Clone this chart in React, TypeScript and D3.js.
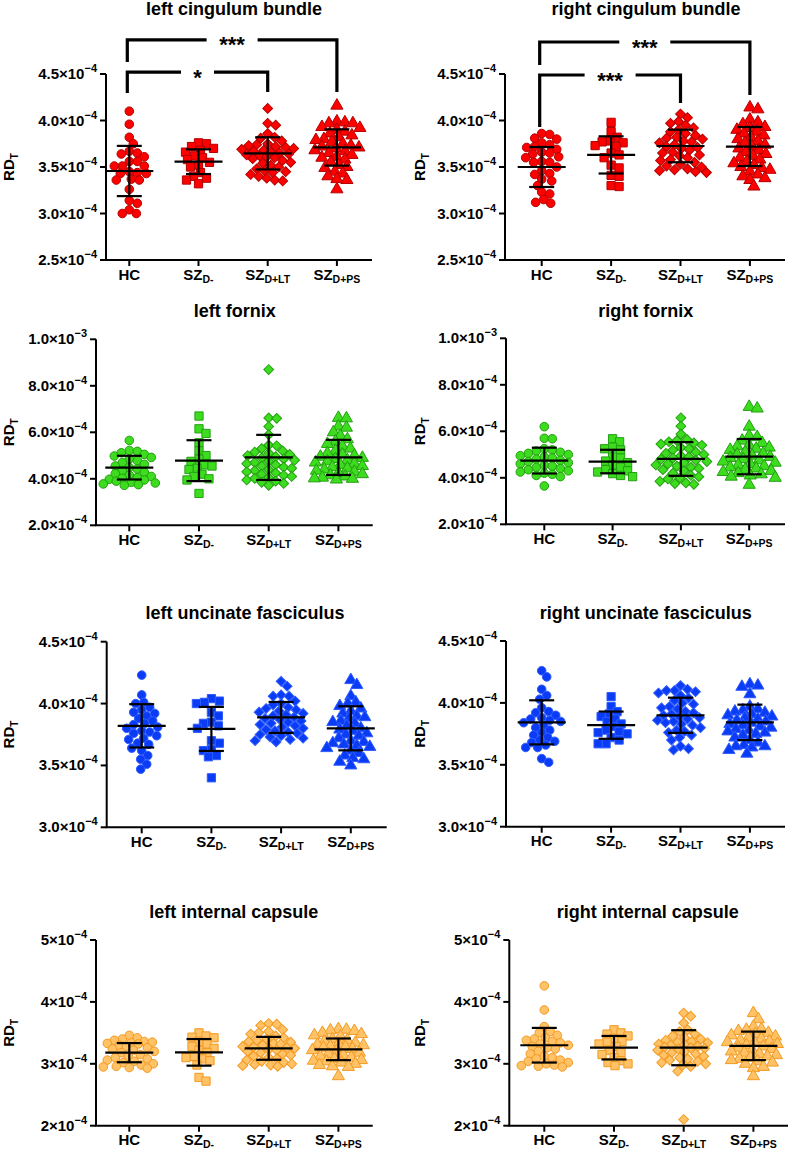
import React from "react";
import * as d3 from "d3";

// Values are RD_T in units of 1e-4
const CAT_KEYS = ["HC", "SZD-", "SZD+LT", "SZD+PS"];
const CAT_MAIN = ["HC", "SZ", "SZ", "SZ"];
const CAT_SUB = ["", "D-", "D+LT", "D+PS"];

// ---------- left cingulum bundle ----------
const lcbHC = [4.10, 3.96, 3.82, 3.75, 3.67, 3.65, 3.64, 3.61, 3.56, 3.56, 3.51, 3.51, 3.51, 3.45, 3.44, 3.43, 3.43, 3.37, 3.36, 3.36, 3.26, 3.14, 3.11, 3.04, 3.00, 3.00];
const lcbSZD = [3.76, 3.75, 3.72, 3.70, 3.68, 3.66, 3.62, 3.60, 3.58, 3.55, 3.52, 3.50, 3.44, 3.40, 3.38, 3.36, 3.32];
const lcbLT = [4.13, 3.97, 3.95, 3.86, 3.82, 3.81, 3.78, 3.75, 3.74, 3.73, 3.72, 3.71, 3.70, 3.69, 3.68, 3.67, 3.66, 3.65, 3.64, 3.63, 3.62, 3.61, 3.60, 3.59, 3.57, 3.55, 3.54, 3.52, 3.50, 3.48, 3.46, 3.45, 3.44, 3.42, 3.40, 3.38, 3.36, 3.35];
const lcbPS = [4.16, 3.99, 3.98, 3.97, 3.97, 3.93, 3.92, 3.90, 3.88, 3.86, 3.84, 3.82, 3.80, 3.79, 3.77, 3.75, 3.73, 3.72, 3.71, 3.70, 3.68, 3.67, 3.65, 3.63, 3.61, 3.60, 3.58, 3.55, 3.52, 3.50, 3.49, 3.45, 3.43, 3.40, 3.37, 3.36, 3.26];
const lcbMean = [3.457, 3.557, 3.647, 3.71];
const lcbSD = [0.27, 0.133, 0.173, 0.195];

// ---------- right cingulum bundle ----------
const rcbHC = [3.86, 3.85, 3.81, 3.80, 3.76, 3.74, 3.72, 3.71, 3.69, 3.66, 3.65, 3.64, 3.61, 3.60, 3.56, 3.55, 3.55, 3.50, 3.46, 3.43, 3.42, 3.37, 3.35, 3.30, 3.23, 3.21, 3.15, 3.12, 3.11];
const rcbSZD = [3.98, 3.88, 3.82, 3.78, 3.77, 3.76, 3.73, 3.72, 3.65, 3.63, 3.60, 3.52, 3.49, 3.41, 3.40, 3.30, 3.29];
const rcbLT = [4.07, 4.03, 3.99, 3.97, 3.95, 3.92, 3.90, 3.88, 3.86, 3.84, 3.82, 3.81, 3.80, 3.78, 3.77, 3.76, 3.74, 3.72, 3.71, 3.70, 3.68, 3.66, 3.65, 3.63, 3.62, 3.60, 3.58, 3.57, 3.55, 3.53, 3.51, 3.50, 3.48, 3.47, 3.46, 3.45, 3.44];
const rcbPS = [4.14, 4.12, 4.01, 3.98, 3.96, 3.93, 3.92, 3.90, 3.88, 3.86, 3.84, 3.82, 3.80, 3.78, 3.76, 3.74, 3.72, 3.70, 3.68, 3.66, 3.64, 3.62, 3.60, 3.58, 3.56, 3.54, 3.52, 3.50, 3.49, 3.47, 3.45, 3.42, 3.40, 3.38, 3.36, 3.29];
const rcbMean = [3.50, 3.63, 3.726, 3.72];
const rcbSD = [0.215, 0.2, 0.175, 0.21];

// ---------- left fornix ----------
const lfxHC = [5.65, 5.22, 5.18, 5.12, 5.05, 4.98, 4.92, 4.85, 4.78, 4.70, 4.62, 4.55, 4.48, 4.42, 4.35, 4.28, 4.22, 4.15, 4.10, 4.05, 4.02, 3.98, 3.95, 3.90, 3.85, 3.82, 3.78, 3.75, 3.72];
const lfxSZD = [6.70, 6.15, 5.95, 5.55, 5.20, 5.00, 4.85, 4.75, 4.60, 4.55, 4.45, 4.40, 4.20, 4.10, 4.00, 3.95, 3.37];
const lfxLT = [8.70, 6.62, 6.60, 6.25, 5.90, 5.45, 5.42, 5.30, 5.20, 5.15, 5.10, 5.05, 5.00, 4.95, 4.90, 4.85, 4.80, 4.75, 4.70, 4.65, 4.60, 4.55, 4.50, 4.45, 4.40, 4.35, 4.30, 4.25, 4.20, 4.15, 4.10, 4.05, 4.02, 3.95, 3.90, 3.85, 3.80, 3.72];
const lfxPS = [6.62, 6.60, 6.25, 6.20, 6.00, 5.85, 5.70, 5.60, 5.50, 5.40, 5.30, 5.20, 5.10, 5.05, 5.00, 4.95, 4.90, 4.85, 4.80, 4.75, 4.70, 4.65, 4.60, 4.55, 4.50, 4.45, 4.40, 4.35, 4.30, 4.25, 4.20, 4.15, 4.10, 4.05, 4.02, 4.00, 3.97];
const lfxMean = [4.48, 4.78, 4.92, 4.92];
const lfxSD = [0.51, 0.88, 0.97, 0.755];

// ---------- right fornix ----------
const rfxHC = [6.20, 5.70, 5.68, 5.25, 5.20, 5.15, 5.10, 5.05, 5.00, 4.95, 4.90, 4.85, 4.80, 4.75, 4.70, 4.65, 4.60, 4.55, 4.50, 4.45, 4.40, 4.35, 4.30, 4.25, 4.20, 4.15, 4.10, 4.05, 3.65];
const rfxSZD = [5.68, 5.55, 5.32, 5.25, 5.20, 4.90, 4.85, 4.72, 4.65, 4.55, 4.45, 4.35, 4.30, 4.25, 4.18, 4.10, 4.05];
const rfxLT = [6.58, 6.22, 5.88, 5.65, 5.60, 5.55, 5.50, 5.45, 5.40, 5.30, 5.25, 5.20, 5.10, 5.05, 5.00, 4.95, 4.90, 4.85, 4.80, 4.75, 4.70, 4.65, 4.60, 4.55, 4.50, 4.45, 4.40, 4.35, 4.30, 4.20, 4.10, 4.05, 4.00, 3.95, 3.85, 3.78, 3.75, 3.72];
const rfxPS = [7.05, 6.98, 6.20, 5.80, 5.75, 5.60, 5.50, 5.40, 5.35, 5.30, 5.25, 5.20, 5.10, 5.05, 5.00, 4.95, 4.90, 4.85, 4.80, 4.75, 4.70, 4.65, 4.60, 4.55, 4.50, 4.45, 4.40, 4.35, 4.30, 4.25, 4.20, 4.15, 4.10, 4.05, 4.00, 3.70];
const rfxMean = [4.74, 4.70, 4.81, 4.91];
const rfxSD = [0.555, 0.505, 0.725, 0.76];

// ---------- left uncinate fasciculus ----------
const lufHC = [4.23, 4.07, 4.01, 4.00, 3.97, 3.95, 3.93, 3.92, 3.90, 3.88, 3.86, 3.84, 3.83, 3.81, 3.80, 3.78, 3.77, 3.76, 3.74, 3.72, 3.71, 3.68, 3.67, 3.64, 3.62, 3.58, 3.55, 3.51, 3.47];
const lufSZD = [4.04, 4.02, 4.01, 4.00, 3.93, 3.90, 3.85, 3.84, 3.82, 3.80, 3.70, 3.68, 3.63, 3.62, 3.58, 3.57, 3.40];
const lufLT = [4.18, 4.14, 4.07, 4.06, 4.06, 4.02, 4.00, 3.99, 3.97, 3.96, 3.95, 3.94, 3.93, 3.92, 3.91, 3.90, 3.89, 3.88, 3.87, 3.86, 3.85, 3.84, 3.83, 3.82, 3.81, 3.80, 3.79, 3.78, 3.77, 3.76, 3.75, 3.74, 3.73, 3.72, 3.71, 3.70, 3.69];
const lufPS = [4.19, 4.15, 4.06, 4.01, 4.00, 3.98, 3.96, 3.94, 3.92, 3.90, 3.89, 3.88, 3.86, 3.85, 3.84, 3.82, 3.80, 3.79, 3.78, 3.76, 3.75, 3.74, 3.72, 3.70, 3.69, 3.68, 3.67, 3.66, 3.65, 3.64, 3.62, 3.60, 3.58, 3.56, 3.55, 3.53, 3.50];
const lufMean = [3.82, 3.795, 3.888, 3.80];
const lufSD = [0.175, 0.178, 0.125, 0.178];

// ---------- right uncinate fasciculus ----------
const rufHC = [4.26, 4.21, 4.11, 4.06, 4.03, 3.96, 3.93, 3.92, 3.90, 3.88, 3.87, 3.86, 3.85, 3.84, 3.82, 3.80, 3.78, 3.76, 3.74, 3.72, 3.70, 3.69, 3.68, 3.66, 3.64, 3.64, 3.55, 3.52];
const rufSZD = [4.05, 3.97, 3.93, 3.91, 3.89, 3.87, 3.85, 3.83, 3.81, 3.78, 3.77, 3.76, 3.75, 3.72, 3.70, 3.67, 3.67];
const rufLT = [4.14, 4.11, 4.10, 4.10, 4.09, 4.08, 4.06, 4.04, 4.02, 4.00, 3.99, 3.97, 3.96, 3.95, 3.93, 3.92, 3.91, 3.90, 3.89, 3.88, 3.87, 3.86, 3.85, 3.84, 3.83, 3.82, 3.80, 3.78, 3.77, 3.76, 3.74, 3.72, 3.70, 3.65, 3.63, 3.62];
const rufPS = [4.15, 4.14, 4.13, 4.07, 3.97, 3.95, 3.94, 3.93, 3.92, 3.91, 3.90, 3.89, 3.88, 3.87, 3.86, 3.85, 3.84, 3.83, 3.82, 3.81, 3.80, 3.79, 3.78, 3.77, 3.76, 3.75, 3.74, 3.72, 3.70, 3.68, 3.66, 3.65, 3.65, 3.64, 3.62, 3.59];
const rufMean = [3.843, 3.82, 3.90, 3.843];
const rufSD = [0.178, 0.11, 0.142, 0.143];

// ---------- left internal capsule ----------
const licHC = [3.46, 3.42, 3.40, 3.38, 3.36, 3.35, 3.34, 3.33, 3.32, 3.30, 3.28, 3.26, 3.24, 3.22, 3.20, 3.18, 3.15, 3.12, 3.10, 3.08, 3.06, 3.04, 3.02, 3.00, 2.98, 2.96, 2.95, 2.94, 2.93];
const licSZD = [3.50, 3.45, 3.43, 3.42, 3.35, 3.32, 3.28, 3.25, 3.22, 3.18, 3.12, 3.10, 3.08, 3.05, 2.98, 2.78, 2.72];
const licLT = [3.65, 3.64, 3.62, 3.55, 3.52, 3.50, 3.48, 3.45, 3.42, 3.40, 3.38, 3.36, 3.35, 3.33, 3.32, 3.30, 3.28, 3.27, 3.26, 3.25, 3.23, 3.22, 3.20, 3.18, 3.16, 3.14, 3.12, 3.10, 3.08, 3.06, 3.04, 3.02, 3.00, 2.99, 2.98, 2.97, 2.96];
const licPS = [3.56, 3.55, 3.54, 3.53, 3.50, 3.48, 3.46, 3.44, 3.40, 3.38, 3.36, 3.34, 3.32, 3.31, 3.30, 3.28, 3.27, 3.26, 3.24, 3.22, 3.20, 3.18, 3.16, 3.14, 3.12, 3.10, 3.08, 3.06, 3.05, 3.04, 3.02, 3.00, 2.98, 2.96, 2.95, 2.80];
const licMean = [3.18, 3.185, 3.25, 3.234];
const licSD = [0.155, 0.215, 0.185, 0.175];

// ---------- right internal capsule ----------
const ricHC = [4.26, 3.87, 3.60, 3.52, 3.50, 3.46, 3.42, 3.40, 3.38, 3.36, 3.34, 3.32, 3.30, 3.28, 3.26, 3.24, 3.20, 3.16, 3.12, 3.10, 3.08, 3.06, 3.04, 3.02, 3.00, 2.98, 2.97, 2.96, 2.95];
const ricSZD = [3.55, 3.50, 3.48, 3.45, 3.40, 3.36, 3.35, 3.32, 3.28, 3.22, 3.18, 3.15, 3.10, 3.05, 3.02, 3.00, 2.97];
const ricLT = [3.82, 3.77, 3.66, 3.55, 3.52, 3.48, 3.45, 3.42, 3.40, 3.38, 3.36, 3.35, 3.34, 3.32, 3.31, 3.30, 3.28, 3.27, 3.26, 3.25, 3.24, 3.22, 3.20, 3.18, 3.16, 3.14, 3.12, 3.10, 3.08, 3.06, 3.04, 3.02, 3.00, 2.98, 2.96, 2.88, 2.10];
const ricPS = [3.82, 3.72, 3.60, 3.56, 3.55, 3.53, 3.50, 3.48, 3.46, 3.44, 3.42, 3.40, 3.38, 3.36, 3.35, 3.34, 3.32, 3.30, 3.28, 3.26, 3.24, 3.22, 3.20, 3.18, 3.16, 3.14, 3.12, 3.10, 3.08, 3.06, 3.04, 3.02, 3.00, 2.95, 2.93, 2.80];
const ricMean = [3.30, 3.26, 3.26, 3.29];
const ricSD = [0.28, 0.19, 0.283, 0.23];

// ---------- axes ----------
const cingTicks = [2.5, 3.0, 3.5, 4.0, 4.5];
const cingTickLabels = [["2.5×10", "−4"], ["3.0×10", "−4"], ["3.5×10", "−4"], ["4.0×10", "−4"], ["4.5×10", "−4"]];
const fornixTicks = [2, 4, 6, 8, 10];
const fornixTickLabels = [["2.0×10", "−4"], ["4.0×10", "−4"], ["6.0×10", "−4"], ["8.0×10", "−4"], ["1.0×10", "−3"]];
const uncTicks = [3.0, 3.5, 4.0, 4.5];
const uncTickLabels = [["3.0×10", "−4"], ["3.5×10", "−4"], ["4.0×10", "−4"], ["4.5×10", "−4"]];
const capTicks = [2, 3, 4, 5];
const capTickLabels = [["2×10", "−4"], ["3×10", "−4"], ["4×10", "−4"], ["5×10", "−4"]];

// significance brackets (group indices, label, heights in data units)
const lcbBrackets = [
  { a: 0, b: 3, label: "***", line: 4.866, legA: 4.63, legB: 4.306 },
  { a: 0, b: 2, label: "*", line: 4.52, legA: 4.296, legB: 4.306 },
];
const rcbBrackets = [
  { a: 0, b: 3, label: "***", line: 4.844, legA: 4.597, legB: 4.274 },
  { a: 0, b: 2, label: "***", line: 4.489, legA: 3.93, legB: 4.188 },
];

const PALETTES: Record<string, { fill: string; stroke: string }> = {
  red: { fill: "#ff0000", stroke: "#b30000" },
  green: { fill: "#3ddc1e", stroke: "#23a012" },
  blue: { fill: "#0a3cf5", stroke: "#2f5cff" },
  orange: { fill: "#ffc266", stroke: "#f39a22" },
};

const PANELS = [
  { title: "left cingulum bundle", groups: [lcbHC, lcbSZD, lcbLT, lcbPS], mean: lcbMean, sd: lcbSD, domain: [2.5, 4.5], ticks: cingTicks, tickLabels: cingTickLabels, color: "red", brackets: lcbBrackets },
  { title: "right cingulum bundle", groups: [rcbHC, rcbSZD, rcbLT, rcbPS], mean: rcbMean, sd: rcbSD, domain: [2.5, 4.5], ticks: cingTicks, tickLabels: cingTickLabels, color: "red", brackets: rcbBrackets },
  { title: "left fornix", groups: [lfxHC, lfxSZD, lfxLT, lfxPS], mean: lfxMean, sd: lfxSD, domain: [2, 10], ticks: fornixTicks, tickLabels: fornixTickLabels, color: "green", brackets: [] },
  { title: "right fornix", groups: [rfxHC, rfxSZD, rfxLT, rfxPS], mean: rfxMean, sd: rfxSD, domain: [2, 10], ticks: fornixTicks, tickLabels: fornixTickLabels, color: "green", brackets: [] },
  { title: "left uncinate fasciculus", groups: [lufHC, lufSZD, lufLT, lufPS], mean: lufMean, sd: lufSD, domain: [3.0, 4.5], ticks: uncTicks, tickLabels: uncTickLabels, color: "blue", brackets: [] },
  { title: "right uncinate fasciculus", groups: [rufHC, rufSZD, rufLT, rufPS], mean: rufMean, sd: rufSD, domain: [3.0, 4.5], ticks: uncTicks, tickLabels: uncTickLabels, color: "blue", brackets: [] },
  { title: "left internal capsule", groups: [licHC, licSZD, licLT, licPS], mean: licMean, sd: licSD, domain: [2, 5], ticks: capTicks, tickLabels: capTickLabels, color: "orange", brackets: [] },
  { title: "right internal capsule", groups: [ricHC, ricSZD, ricLT, ricPS], mean: ricMean, sd: ricSD, domain: [2, 5], ticks: capTicks, tickLabels: capTickLabels, color: "orange", brackets: [] },
];

// layout of each panel (pixels)
const LAYOUTS = [
  { axisX: 106, yTop: 74, yBot: 260, cat0: 129.3, step: 69.2, axisEnd: 372, titleX: 234, titleY: 15, labelX: 14 },
  { axisX: 505, yTop: 74, yBot: 260, cat0: 541.7, step: 69.4, axisEnd: 785, titleX: 646, titleY: 15, labelX: 425 },
  { axisX: 96, yTop: 339.3, yBot: 525.3, cat0: 129.3, step: 69.7, axisEnd: 372.7, titleX: 234.7, titleY: 317, labelX: 14 },
  { axisX: 506, yTop: 338.3, yBot: 524.3, cat0: 544.3, step: 68.3, axisEnd: 785, titleX: 645.7, titleY: 317, labelX: 425 },
  { axisX: 106.7, yTop: 641.7, yBot: 827.3, cat0: 141.7, step: 69.7, axisEnd: 386.7, titleX: 245, titleY: 619.3, labelX: 14 },
  { axisX: 506, yTop: 641, yBot: 826.7, cat0: 541.7, step: 69.4, axisEnd: 785, titleX: 645.7, titleY: 619, labelX: 425 },
  { axisX: 96, yTop: 940, yBot: 1125.7, cat0: 129.3, step: 69.7, axisEnd: 372.7, titleX: 233.8, titleY: 918.3, labelX: 14 },
  { axisX: 509.3, yTop: 940, yBot: 1125.7, cat0: 544.3, step: 69.7, axisEnd: 788, titleX: 647.8, titleY: 918, labelX: 425 },
];

const FONT = "'Liberation Sans', Arial, Helvetica, sans-serif";
const SWARM_D = 7.6;
const SWARM_MAX = 26;

function swarm(vals: number[], y: (v: number) => number) {
  const pts = vals.map((v) => ({ v, py: y(v), dx: 0 })).sort((a, b) => a.py - b.py);
  const placed: { px: number; py: number }[] = [];
  for (const p of pts) {
    let best = 0;
    let bestScore = -1;
    for (let k = 0; k <= 2 * SWARM_MAX; k++) {
      const c = k === 0 ? 0 : k % 2 === 1 ? Math.ceil(k / 2) : -Math.ceil(k / 2);
      let minD = Infinity;
      for (const q of placed) {
        const dd = Math.hypot(q.px - c, q.py - p.py);
        if (dd < minD) minD = dd;
      }
      if (minD >= SWARM_D) {
        best = c;
        break;
      }
      if (minD > bestScore) {
        bestScore = minD;
        best = c;
      }
    }
    p.dx = best;
    placed.push({ px: p.dx, py: p.py });
  }
  return pts;
}

const SYMBOLS = [
  { type: d3.symbolCircle, size: 58, rot: 0 },
  { type: d3.symbolSquare, size: 68, rot: 0 },
  { type: d3.symbolSquare, size: 48, rot: 45 },
  { type: d3.symbolTriangle, size: 64, rot: 0 },
];

function Panel({ p, L }: { p: any; L: any }) {
  const y = d3.scaleLinear().domain(p.domain).range([L.yBot, L.yTop]);
  const x = d3
    .scalePoint<string>()
    .domain(CAT_KEYS)
    .range([L.cat0, L.cat0 + 3 * L.step]);
  const pal = PALETTES[p.color];
  const cy = (L.yTop + L.yBot) / 2;

  return (
    <g fontFamily={FONT} fontWeight="bold">
      <text x={L.titleX} y={L.titleY} fontSize={18} textAnchor="middle">
        {p.title}
      </text>
      <text transform={`translate(${L.labelX},${cy}) rotate(-90)`} fontSize={15} textAnchor="middle">
        RD
        <tspan fontSize={10} dy={4}>
          T
        </tspan>
      </text>
      {/* axes */}
      <line x1={L.axisX} x2={L.axisX} y1={L.yTop} y2={L.yBot} stroke="#000" strokeWidth={2} />
      <line x1={L.axisX - 1} x2={L.axisEnd} y1={L.yBot} y2={L.yBot} stroke="#000" strokeWidth={2} />
      {p.ticks.map((t: number, i: number) => (
        <g key={"t" + i}>
          <line x1={L.axisX - 6} x2={L.axisX} y1={y(t)} y2={y(t)} stroke="#000" strokeWidth={2} />
          <text x={L.axisX - 9} y={y(t) + 5} fontSize={15} textAnchor="end">
            {p.tickLabels[i][0]}
            <tspan fontSize={11} dy={-7}>
              {p.tickLabels[i][1]}
            </tspan>
          </text>
        </g>
      ))}
      {CAT_KEYS.map((c, i) => (
        <g key={"c" + i}>
          <line x1={x(c)} x2={x(c)} y1={L.yBot} y2={L.yBot + 6} stroke="#000" strokeWidth={2} />
          <text x={x(c)} y={L.yBot + 19.5} fontSize={15} textAnchor="middle">
            {CAT_MAIN[i]}
            {CAT_SUB[i] ? (
              <tspan fontSize={10.5} dy={3}>
                {CAT_SUB[i]}
              </tspan>
            ) : null}
          </text>
        </g>
      ))}
      {/* points */}
      {p.groups.map((vals: number[], gi: number) => {
        const sym = SYMBOLS[gi];
        const path = d3.symbol().type(sym.type).size(sym.size)() as string;
        const cx = x(CAT_KEYS[gi]) as number;
        return (
          <g key={"g" + gi}>
            {swarm(vals, y).map((pt, k) => (
              <path
                key={k}
                d={path}
                transform={`translate(${cx + pt.dx},${pt.py}) rotate(${sym.rot})`}
                fill={pal.fill}
                stroke={pal.stroke}
                strokeWidth={1}
              />
            ))}
          </g>
        );
      })}
      {/* mean and SD */}
      {p.mean.map((m: number, gi: number) => {
        const cx = x(CAT_KEYS[gi]) as number;
        const hi = y(m + p.sd[gi]);
        const lo = y(m - p.sd[gi]);
        return (
          <g key={"m" + gi} stroke="#000" strokeWidth={2.2}>
            <line x1={cx - 24} x2={cx + 24} y1={y(m)} y2={y(m)} />
            <line x1={cx} x2={cx} y1={hi} y2={lo} />
            <line x1={cx - 12.5} x2={cx + 12.5} y1={hi} y2={hi} />
            <line x1={cx - 12.5} x2={cx + 12.5} y1={lo} y2={lo} />
          </g>
        );
      })}
      {/* significance brackets */}
      {p.brackets.map((b: any, bi: number) => {
        const xa = (x(CAT_KEYS[b.a]) as number) - 2;
        const xb = x(CAT_KEYS[b.b]) as number;
        const yl = y(b.line);
        const mid = (xa + xb) / 2;
        const half = 12 + b.label.length * 4.5;
        return (
          <g key={"b" + bi}>
            <path
              d={`M${xa},${y(b.legA)}V${yl}H${mid - half}M${mid + half},${yl}H${xb}V${y(b.legB)}`}
              fill="none"
              stroke="#000"
              strokeWidth={3.2}
            />
            <text x={mid} y={yl + 12.5} fontSize={22} textAnchor="middle">
              {b.label}
            </text>
          </g>
        );
      })}
    </g>
  );
}

export default function App() {
  return (
    <svg
      width={790}
      height={1151}
      viewBox="0 0 790 1151"
      style={{ position: "absolute", left: 0, top: 0, background: "#fff" }}
    >
      <rect width={790} height={1151} fill="#fff" />
      {PANELS.map((p, i) => (
        <Panel key={i} p={p} L={LAYOUTS[i]} />
      ))}
    </svg>
  );
}
